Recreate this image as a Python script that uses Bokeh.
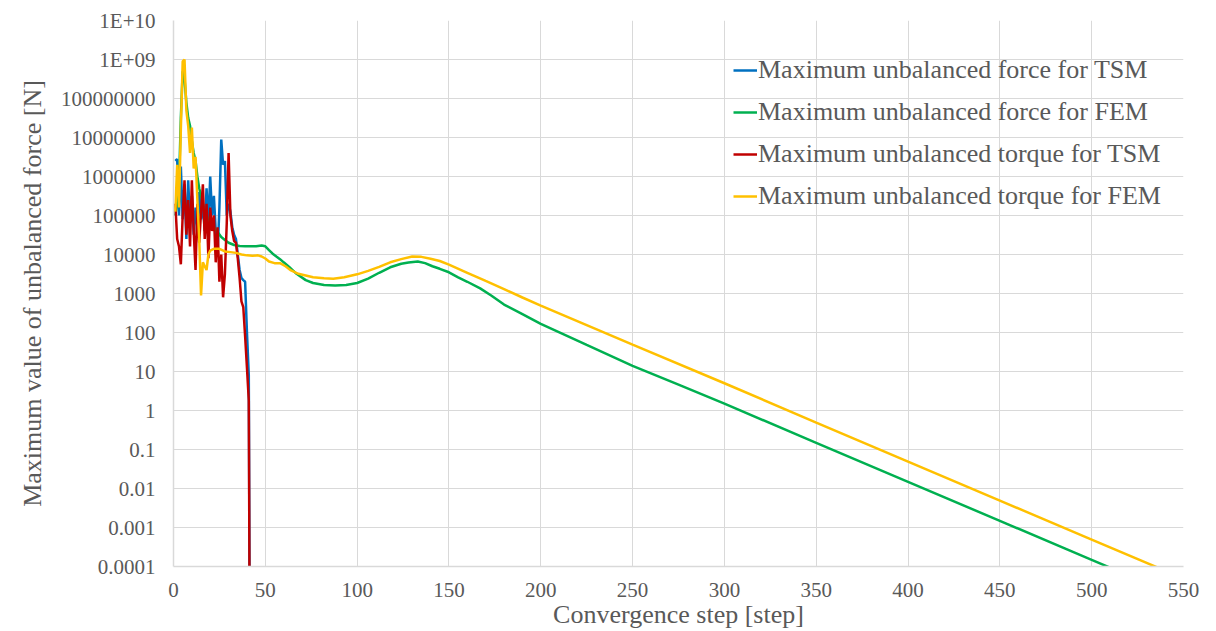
from bokeh.plotting import figure
from bokeh.models import (FixedTicker, CustomJSTickFormatter, Legend, LegendItem)
from bokeh.embed import file_html
from bokeh.resources import INLINE

# ---------------- data ----------------
x_ticks = [0, 50, 100, 150, 200, 250, 300, 350, 400, 450, 500, 550]
y_ticks = [1e-4, 1e-3, 1e-2, 1e-1, 1, 10, 100, 1000, 1e4, 1e5, 1e6, 1e7, 1e8, 1e9, 1e10]
y_tick_labels = ["0.0001", "0.001", "0.01", "0.1", "1", "10", "100", "1000", "10000",
                 "100000", "1000000", "10000000", "100000000", "1E+09", "1E+10"]

series_names = ["Maximum unbalanced force for TSM", "Maximum unbalanced force for FEM",
                "Maximum unbalanced torque for TSM", "Maximum unbalanced torque for FEM"]

steps_tsm = [1, 2, 3, 4, 5, 6, 7, 8, 9, 10, 11, 12, 13, 14, 15, 16, 17, 18, 19, 20, 21,
             22, 23, 24, 25, 26, 27, 28, 29, 30, 31, 32, 33, 34, 35, 36, 37, 38, 39, 40, 41, 42]

force_tsm = [2.5e6, 2.8e6, 1.0e5, 1.8e6, 8.0e4, 6.3e5, 2.5e4, 8.0e5, 6.3e4, 3.2e5, 3.2e4,
             1.6e5, 5.0e4, 4.0e5, 8.0e4, 2.0e5, 4.0e4, 5.0e5, 6.3e4, 1.0e6, 1.0e5, 3.2e5,
             4.0e4, 1.0e4, 1.6e5, 8.9e6, 2.0e6, 2.5e6, 1.0e5, 2.0e5, 1.26e5, 5.0e4, 3.2e4,
             2.5e4, 1.0e4, 4.0e3, 2.5e3, 2.2e3, 2.0e3, 1.0e2, 8.0, 1e-12]

torque_tsm = [2.0e5, 2.5e4, 1.6e4, 5.6e3, 1.0e5, 8.0e5, 3.2e4, 2.5e5, 1.6e4, 8.0e5, 4.0e4,
              4.0e3, 2.0e5, 2.0e4, 1.26e5, 6.3e5, 2.5e4, 2.0e5, 8.0e3, 1.6e5, 4.0e4, 1.0e5,
              6.3e3, 5.0e4, 2.0e3, 1.0e4, 8.0e2, 3.2e3, 6.3e4, 4.0e6, 1.0e5, 4.0e4, 2.2e4,
              2.0e4, 8.0e3, 2.5e3, 6.3e2, 4.5e2, 80, 12.6, 1.8, 1e-12]

steps_force_fem = [1, 2, 3, 4, 5, 6, 7, 8, 9, 10, 11, 12, 13, 14, 15, 16, 17, 18, 19, 20,
                   22, 24, 26, 28, 30, 33, 36, 39, 42, 45, 48, 50, 52, 54, 56, 58, 60, 63,
                   67, 72, 76, 82, 88, 94, 100, 106, 112, 118, 124, 128, 133, 137, 141, 145,
                   150, 155, 160, 167, 173, 180, 190, 200, 225, 250, 275, 300, 350, 400,
                   450, 500, 520]
force_fem = [1.0e5, 2.0e5, 6.3e5, 3.2e7, 5.0e8, 3.2e8, 8.0e7, 3.2e7, 2.0e7, 8.0e6, 4.0e6,
             2.5e6, 1.0e6, 5.0e5, 3.2e5, 2.0e5, 1.26e5, 1.0e5, 8.0e4, 6.3e4,
             5.0e4, 3.8e4, 2.8e4, 2.35e4, 2.0e4, 1.75e4, 1.65e4, 1.62e4, 1.62e4, 1.62e4,
             1.7e4, 1.62e4, 1.3e4, 1.05e4, 8.9e3, 7.6e3, 6.3e3, 4.8e3,
             3.2e3, 2.2e3, 1.86e3, 1.66e3, 1.6e3, 1.66e3, 1.86e3, 2.4e3, 3.4e3, 4.7e3,
             5.8e3, 6.2e3, 6.6e3, 6.0e3, 5.0e3, 4.3e3,
             3.5e3, 2.6e3, 2.0e3, 1.35e3, 8.9e2, 5.2e2, 2.95e2, 1.66e2, 48, 14, 4.6, 1.5,
             0.148, 0.0148, 0.00148, 0.000148, 5.9e-5]

steps_torque_fem = [1, 2, 3, 4, 5, 6, 7, 8, 9, 10, 11, 12, 13, 14, 15, 16, 17, 18, 19, 20,
                    22, 25, 28, 31, 34, 37, 40, 43, 46, 48, 50, 52, 55, 58, 61, 64, 68, 72,
                    76, 82, 87, 93, 100, 106, 112, 118, 124, 130, 135, 140, 145, 150, 160,
                    170, 180, 190, 200, 250, 300, 350, 400, 450, 500, 540]
torque_fem = [1.26e5, 2.0e6, 1.6e5, 1.6e7, 8.9e8, 1.0e9, 5.0e7, 2.0e7, 4.0e6, 1.8e7, 1.6e6,
              3.2e6, 2.5e5, 2.5e4, 8.9e2, 6.3e3, 5.0e3, 4.0e3, 1.0e4, 1.26e4,
              1.4e4, 1.4e4, 1.2e4, 1.15e4, 1.1e4, 1.0e4, 9.5e3, 9.3e3, 9.5e3, 8.9e3, 7.9e3,
              6.6e3, 6.0e3, 6.0e3, 5.0e3, 3.9e3, 3.2e3, 2.9e3,
              2.6e3, 2.45e3, 2.4e3, 2.6e3, 3.1e3, 3.8e3, 4.8e3, 6.3e3, 7.6e3, 8.9e3, 8.7e3,
              7.8e3, 6.8e3, 5.5e3, 3.4e3,
              2.1e3, 1.3e3, 7.9e2, 4.9e2, 49, 5.0, 0.49, 0.049, 0.0049, 0.00049, 7.8e-5]

colors = ["#0070C0", "#00B050", "#C00000", "#FFC000"]

# ---------------- figure ----------------
FONT = "Liberation Serif"
GREY_TXT = "#595959"
GRID = "#d9d9d9"

p = figure(width=1216, height=631, y_axis_type="log",
           x_range=(0, 550), y_range=(1e-4, 1e10),
           output_backend="svg", toolbar_location=None,
           min_border_left=173, min_border_right=33, min_border_top=20, min_border_bottom=65)
p.outline_line_color = None
p.background_fill_color = "white"
p.border_fill_color = "white"

p.xaxis.ticker = FixedTicker(ticks=x_ticks)
p.yaxis.ticker = FixedTicker(ticks=y_ticks)
p.xgrid.ticker = FixedTicker(ticks=x_ticks)
p.ygrid.ticker = FixedTicker(ticks=y_ticks)
for g in (p.xgrid, p.ygrid):
    g.grid_line_color = GRID
    g.grid_line_width = 1
    g.minor_grid_line_color = None

p.yaxis.formatter = CustomJSTickFormatter(args=dict(tv=y_ticks, tl=y_tick_labels), code="""
let best = 0, bd = Infinity;
for (let i = 0; i < tv.length; i++) {
  const d = Math.abs(Math.log10(tv[i]) - Math.log10(tick));
  if (d < bd) { bd = d; best = i; }
}
return tl[best];
""")

for ax in (p.xaxis, p.yaxis):
    ax.axis_line_color = GRID
    ax.axis_line_width = 1.5
    ax.major_tick_line_color = None
    ax.minor_tick_line_color = None
    ax.major_label_text_font = FONT
    ax.major_label_text_font_size = "21px"
    ax.major_label_text_color = GREY_TXT
    ax.axis_label_text_font = FONT
    ax.axis_label_text_font_size = "26px"
    ax.axis_label_text_font_style = "normal"
    ax.axis_label_text_color = GREY_TXT

p.xaxis.major_label_standoff = 10
p.yaxis.major_label_standoff = 12

p.yaxis.axis_label = "Maximum value of unbalanced force [N]"
p.yaxis.axis_label_standoff = 11
p.xaxis.axis_label = "Convergence step [step]"
p.xaxis.axis_label_standoff = 0

xs = [steps_tsm, steps_force_fem, steps_tsm, steps_torque_fem]
ys = [force_tsm, force_fem, torque_tsm, torque_fem]
renderers = []
for xv, yv, c in zip(xs, ys, colors):
    r = p.line(xv, yv, line_color=c, line_width=2.5)
    renderers.append(r)

legend = Legend(items=[LegendItem(label=n, renderers=[r]) for n, r in zip(series_names, renderers)],
                location=(560, 355), orientation="vertical",
                label_text_font=FONT, label_text_font_size="26px", label_text_color=GREY_TXT,
                background_fill_alpha=0, border_line_color=None,
                glyph_width=24, glyph_height=20, label_standoff=1,
                padding=0, margin=0, spacing=12)
p.add_layout(legend)

open("out.html", "w").write(file_html(p, INLINE))
